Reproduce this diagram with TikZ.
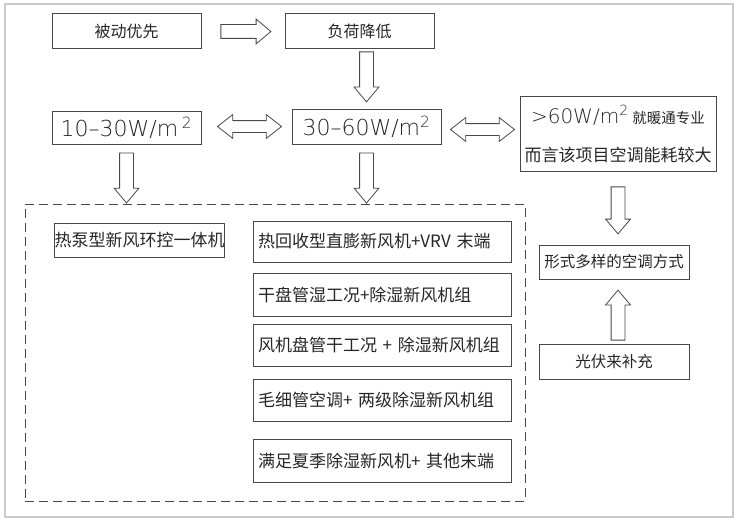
\documentclass[tikz,border=0pt]{standalone}
\usepackage{fontspec}
\setmainfont{Noto Sans CJK SC}
\newfontfamily\cadfont{DejaVu Sans ExtraLight}
\usetikzlibrary{shapes.arrows,calc}
\definecolor{boxline}{HTML}{484848}
\definecolor{frameline}{HTML}{CACACA}
\newcommand{\bw}{149pt}
\newcommand{\cw}{258pt}

\begin{document}
\begin{tikzpicture}[x=1pt, y=-1pt,
    rect/.style={draw=boxline, line width=1pt, rectangle, minimum width=\bw, minimum height=35pt, inner sep=0pt, text=black!85, font=\fontsize{16}{19}\selectfont},
    wrect/.style={rect, minimum width=\cw, text width=248pt, inner xsep=5pt, align=left, font=\fontsize{17}{19}\selectfont},
    sarrow/.style={draw=boxline, line width=0.8pt, single arrow, single arrow head extend=5.5pt, single arrow head indent=0pt, single arrow tip angle=80, inner xsep=0pt, inner ysep=6.5pt, minimum height=50pt, anchor=tip},
    varrow/.style={sarrow, inner xsep=6.5pt, inner ysep=0pt},
    darrow/.style={draw=boxline, line width=0.8pt, double arrow, double arrow head extend=6pt, double arrow head indent=0pt, double arrow tip angle=76, inner xsep=0pt, inner ysep=5.5pt, minimum height=64pt}]
    \useasboundingbox (0,0) rectangle (738,524);
    \draw[frameline, line width=1.5pt] (5,4) rectangle (733,517);

    % First row
    \node[rect] (rect-1-1) at (126.5,31.5) {被动优先};
    \node[rect] (rect-1-2) at (359.5,31.5) {负荷降低};

    % Second row
    \node[rect, minimum height=32pt, font=\cadfont\fontsize{22}{24}\selectfont] (rect-2-1) at (126.5,128) {10–30W/m\,\textsuperscript{2}};
    \node[rect, minimum height=34pt, font=\cadfont\fontsize{22}{24}\selectfont] (rect-2-2) at (366.5,127) {30–60W/m\textsuperscript{2}};
    \node[rect, minimum width=196pt, minimum height=74pt, align=center, font=\fontsize{17}{38}\selectfont] (rect-2-3) at (618,134)
        {{\cadfont\fontsize{20}{38}\selectfont >60W/m\textsuperscript{2}} {\fontsize{14.5}{38}\selectfont 就暖通专业}\\而言该项目空调能耗较大};

    % Dashed group
    \node[draw=boxline, line width=0.8pt, dash pattern=on 9pt off 5pt, minimum width=500pt, minimum height=297pt, inner sep=0pt] (group) at (275,352.5) {};
    \node[rect, minimum width=167pt, minimum height=34pt, font=\fontsize{17}{19}\selectfont] (rect-3-1) at (139.5,240) {热泵型新风环控一体机};
    \node[wrect, minimum height=41pt] (rect-4-1) at (382,241.5) {热回收型直膨新风机+VRV 末端};
    \node[wrect, minimum height=43pt] (rect-4-2) at (382,294.5) {干盘管湿工况+除湿新风机组};
    \node[wrect, minimum height=42pt] (rect-4-3) at (382,345) {风机盘管干工况 + 除湿新风机组};
    \node[wrect, minimum height=42pt] (rect-4-4) at (382,400) {毛细管空调+ 两级除湿新风机组};
    \node[wrect, minimum height=43pt] (rect-4-5) at (382,460.5) {满足夏季除湿新风机+ 其他末端};

    % Right column
    \node[rect, minimum width=150pt, minimum height=34pt, font=\fontsize{15.5}{19}\selectfont] (rect-5-1) at (614,262) {形式多样的空调方式};
    \node[rect, minimum width=150pt, minimum height=35pt, font=\fontsize{15.5}{19}\selectfont] (rect-5-2) at (614,361.5) {光伏来补充};

    % Arrows
    \node[sarrow] (arrow-1) at ([xshift=-13pt]rect-1-2.west) {};
    \node[varrow, shape border rotate=270] (arrow-2) at ([yshift=7pt]rect-2-2.north) {};
    \node[darrow] (arrow-3) at ($(rect-2-1.east)!0.5!(rect-2-2.west)+(3,-1)$) {};
    \node[darrow] (arrow-4) at ($(rect-2-2.east)!0.5!(rect-2-3.west)+(2,-1)$) {};
    \node[varrow, shape border rotate=270] (arrow-5) at (rect-2-1.south |- group.north) {};
    \node[varrow, shape border rotate=270] (arrow-6) at (rect-2-2.south |- group.north) {};
    \node[varrow, shape border rotate=270, minimum height=47pt] (arrow-7) at ($(rect-2-3.south |- rect-5-1.north)+(0,-10)$) {};
    \node[varrow, shape border rotate=90] (arrow-8) at ($(rect-2-3.south |- rect-5-1.south)+(0,10)$) {};

\end{tikzpicture}
\end{document}
